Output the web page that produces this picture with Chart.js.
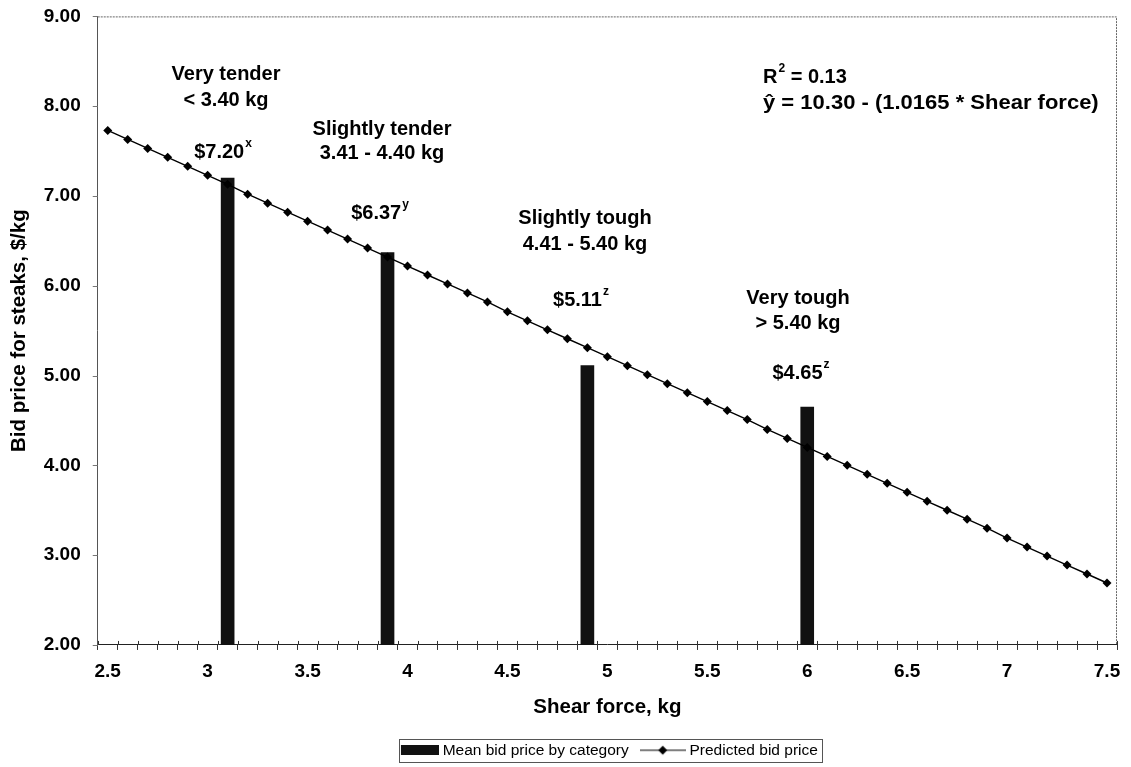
<!DOCTYPE html>
<html>
<head>
<meta charset="utf-8">
<script src="https://cdn.jsdelivr.net/npm/chart.js@4.4.1/dist/chart.umd.min.js"></script>
<style>
  body { margin: 0; background: #fff; }
  #wrap { width: 1131px; height: 767px; }
</style>
</head>
<body>
<div id="wrap"><canvas id="bidChart" width="1131" height="767"></canvas></div>
<script>
// shear force categories, kg (one every 0.1)
const shearForce = [
  2.5, 2.6, 2.7, 2.8, 2.9, 3.0, 3.1, 3.2, 3.3, 3.4,
  3.5, 3.6, 3.7, 3.8, 3.9, 4.0, 4.1, 4.2, 4.3, 4.4,
  4.5, 4.6, 4.7, 4.8, 4.9, 5.0, 5.1, 5.2, 5.3, 5.4,
  5.5, 5.6, 5.7, 5.8, 5.9, 6.0, 6.1, 6.2, 6.3, 6.4,
  6.5, 6.6, 6.7, 6.8, 6.9, 7.0, 7.1, 7.2, 7.3, 7.4, 7.5
];

// predicted bid price, $/kg
const predictedPrice = [
  7.73, 7.63, 7.53, 7.43, 7.33, 7.23, 7.13, 7.02, 6.92, 6.82,
  6.72, 6.62, 6.52, 6.42, 6.32, 6.22, 6.12, 6.02, 5.92, 5.82,
  5.71, 5.61, 5.51, 5.41, 5.31, 5.21, 5.11, 5.01, 4.91, 4.81,
  4.71, 4.61, 4.51, 4.40, 4.30, 4.20, 4.10, 4.00, 3.90, 3.80,
  3.70, 3.60, 3.50, 3.40, 3.30, 3.19, 3.09, 2.99, 2.89, 2.79, 2.69
];

// mean bid price by tenderness category
const categoryNames = ['Very tender', 'Slightly tender', 'Slightly tough', 'Very tough'];
const categoryRanges = ['< 3.40 kg', '3.41 - 4.40 kg', '4.41 - 5.40 kg', '> 5.40 kg'];
const categoryShear = [3.1, 3.9, 4.9, 6.0];
const categoryPrice = [7.20, 6.37, 5.11, 4.65];
const categoryLetters = ['x', 'y', 'z', 'z'];

const yTicks = [2, 3, 4, 5, 6, 7, 8, 9];

const FONT = "'Liberation Sans', Arial, sans-serif";

// label placement for each category block
const blockX = [226, 382, 585, 798];
const blockNameY = [74, 129, 218, 298];
const blockRangeY = [100, 153, 244, 323];
const blockPriceX = [223, 380, 581, 801];
const blockPriceY = [152, 213, 300, 373];

const labels = shearForce.map(String);

// legend symbols (Chart.js centres them on a 38px box)
function barSymbol() {
  const c = document.createElement('canvas');
  c.width = 46; c.height = 10;
  const g = c.getContext('2d');
  g.fillStyle = '#111';
  g.fillRect(8, 0, 38, 10);
  return c;
}
function lineSymbol() {
  const c = document.createElement('canvas');
  c.width = 46; c.height = 12;
  const g = c.getContext('2d');
  g.strokeStyle = '#000';
  g.lineWidth = 1.2;
  g.beginPath(); g.moveTo(0, 6); g.lineTo(46, 6); g.stroke();
  const mid = 23;
  g.fillStyle = '#000';
  g.beginPath(); g.moveTo(mid, 1.5); g.lineTo(mid + 4.5, 6); g.lineTo(mid, 10.5); g.lineTo(mid - 4.5, 6); g.closePath(); g.fill();
  return c;
}

function textWithSup(ctx, base, sup, x, y, align) {
  ctx.font = 'bold 20px ' + FONT;
  const w1 = ctx.measureText(base).width;
  ctx.font = 'bold 12px ' + FONT;
  const w2 = ctx.measureText(sup).width;
  const start = align === 'center' ? x - (w1 + 1 + w2) / 2 : x;
  ctx.textAlign = 'left';
  ctx.font = 'bold 20px ' + FONT;
  ctx.fillText(base, start, y);
  ctx.font = 'bold 12px ' + FONT;
  ctx.fillText(sup, start + w1 + 1, y - 8);
  return start + w1 + 1 + w2;
}

const annotations = {
  id: 'annotations',
  afterLayout(chart) {
    // centre the legend under the plot area rather than the canvas
    const lg = chart.legend;
    const area = chart.chartArea;
    const shift = (area.left + area.right) / 2 - (lg.left + lg.right) / 2;
    lg.left += shift;
    lg.right += shift;
  },
  afterDraw(chart) {
    const ctx = chart.ctx;
    const area = chart.chartArea;
    const xs = chart.scales.x;
    const ys = chart.scales.y;
    ctx.save();

    // dotted frame on top and right of the plot
    ctx.strokeStyle = '#666';
    ctx.lineWidth = 1;
    ctx.setLineDash([2, 1]);
    ctx.beginPath();
    ctx.moveTo(area.left, area.top + 0.5);
    ctx.lineTo(area.right - 0.5, area.top + 0.5);
    ctx.lineTo(area.right - 0.5, area.bottom);
    ctx.stroke();
    ctx.setLineDash([]);

    // short y tick marks
    ctx.strokeStyle = '#777';
    yTicks.forEach(v => {
      const py = Math.round(ys.getPixelForValue(v)) + 0.5;
      ctx.beginPath();
      ctx.moveTo(area.left - 5, py);
      ctx.lineTo(area.left, py);
      ctx.stroke();
    });

    // tick marks poking above the x axis
    ctx.strokeStyle = '#333';
    const n = labels.length;
    for (let i = 0; i <= n; i++) {
      const px = Math.round(xs.left + i * xs.width / n) + 0.5;
      ctx.beginPath();
      ctx.moveTo(px, area.bottom - 4);
      ctx.lineTo(px, area.bottom);
      ctx.stroke();
    }

    // category text blocks
    ctx.fillStyle = '#000';
    ctx.textBaseline = 'middle';
    for (let i = 0; i < categoryNames.length; i++) {
      ctx.font = 'bold 20px ' + FONT;
      ctx.textAlign = 'center';
      ctx.fillText(categoryNames[i], blockX[i], blockNameY[i]);
      ctx.fillText(categoryRanges[i], blockX[i], blockRangeY[i]);
      textWithSup(ctx, '$' + categoryPrice[i].toFixed(2), categoryLetters[i], blockPriceX[i], blockPriceY[i], 'center');
    }

    // regression summary
    const end = textWithSup(ctx, 'R', '2', 763, 77, 'left');
    ctx.font = 'bold 20px ' + FONT;
    ctx.textAlign = 'left';
    ctx.fillText(' = 0.13', end, 77);
    ctx.save();
    ctx.translate(763, 103);
    ctx.scale(1.1, 1);
    ctx.fillText('\u0177 = 10.30 - (1.0165 * Shear force)', 0, 0);
    ctx.restore();

    // legend frame
    const boxes = chart.legend.legendHitBoxes;
    if (boxes && boxes.length) {
      const l = boxes[0].left + 2;
      const last = boxes[boxes.length - 1];
      const r = last.left + last.width + 4;
      const t = boxes[0].top - 4;
      const b = boxes[0].top + boxes[0].height + 3;
      ctx.strokeStyle = '#555';
      ctx.lineWidth = 1;
      ctx.strokeRect(Math.round(l) + 0.5, Math.round(t) + 0.5, Math.round(r - l), Math.round(b - t));
    }
    ctx.restore();
  }
};

new Chart(document.getElementById('bidChart'), {
  type: 'bar',
  data: {
    labels: labels,
    datasets: [
      {
        label: 'Mean bid price by category',
        data: categoryShear.map((s, i) => ({ x: String(s), y: categoryPrice[i] })),
        backgroundColor: '#111',
        barThickness: 13,
        order: 1
      },
      {
        type: 'line',
        label: 'Predicted bid price',
        data: predictedPrice,
        borderColor: '#000',
        borderWidth: 1.4,
        pointStyle: 'rectRot',
        pointRadius: 4.5,
        pointBackgroundColor: '#000',
        pointBorderColor: '#000',
        pointBorderWidth: 0,
        tension: 0,
        order: 0
      }
    ]
  },
  options: {
    responsive: false,
    animation: false,
    layout: { padding: { left: 6, right: 14, top: 9, bottom: -1 } },
    scales: {
      x: {
        type: 'category',
        offset: true,
        grid: {
          display: true,
          offset: true,
          drawOnChartArea: false,
          tickLength: 5,
          color: '#333'
        },
        border: { display: true, color: '#222', width: 1 },
        ticks: {
          autoSkip: false,
          maxRotation: 0,
          padding: 10,
          color: '#000',
          font: { family: FONT, size: 19, weight: 'bold' },
          callback: function (val, i) {
            return i % 5 === 0 ? this.getLabelForValue(val) : '';
          }
        },
        title: {
          display: true,
          text: 'Shear force, kg',
          color: '#000',
          font: { family: FONT, size: 20.5, weight: 'bold', lineHeight: 1.11 },
          padding: { top: 3, bottom: 9 }
        }
      },
      y: {
        min: yTicks[0],
        max: yTicks[yTicks.length - 1],
        afterBuildTicks: (axis) => { axis.ticks = yTicks.map(v => ({ value: v })); },
        grid: {
          display: true,
          drawOnChartArea: false,
          tickLength: 12,
          tickColor: 'rgba(0,0,0,0)'
        },
        border: { display: true, color: '#555', width: 1 },
        ticks: {
          padding: 5,
          color: '#000',
          font: { family: FONT, size: 19, weight: 'bold' },
          callback: (v) => Number(v).toFixed(2)
        },
        title: {
          display: true,
          text: 'Bid price for steaks, $/kg',
          color: '#000',
          font: { family: FONT, size: 20.5, weight: 'bold', lineHeight: 1.11 },
          padding: { top: 2, bottom: 8 }
        }
      }
    },
    plugins: {
      tooltip: { enabled: false },
      legend: {
        position: 'bottom',
        labels: {
          usePointStyle: true,
          pointStyleWidth: 38,
          boxHeight: 12,
          padding: 15,
          color: '#000',
          font: { family: FONT, size: 15.5 },
          generateLabels: () => [
            { text: 'Mean bid price by category', pointStyle: barSymbol(), fillStyle: '#111', strokeStyle: 'transparent', lineWidth: 0, hidden: false, datasetIndex: 0 },
            { text: 'Predicted bid price', pointStyle: lineSymbol(), fillStyle: '#000', strokeStyle: 'transparent', lineWidth: 0, hidden: false, datasetIndex: 1 }
          ]
        }
      }
    }
  },
  plugins: [annotations]
});
</script>
</body>
</html>
